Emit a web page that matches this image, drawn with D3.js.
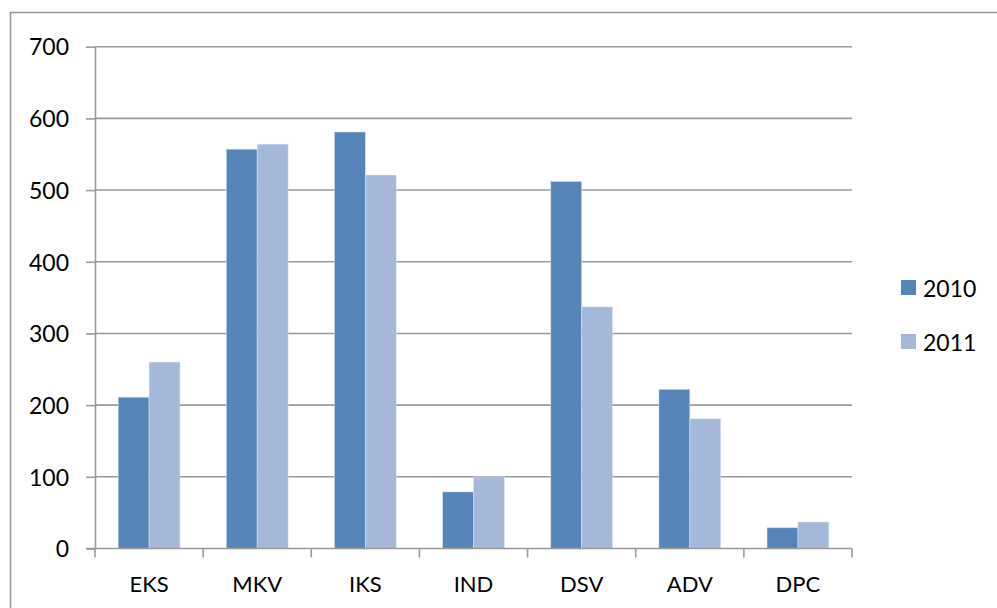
<!DOCTYPE html>
<meta charset="utf-8">
<style>
  body { margin: 0; background: #fff; }
  svg text { font-family: Lato, "Open Sans", sans-serif; fill: #000; }
  .grid line { stroke: #999; stroke-width: 1.6px; }
  .axis path, .axis line { stroke: #999; stroke-width: 1.6px; }
</style>
<svg width="997" height="608"></svg>
<script src="https://d3js.org/d3.v7.min.js"></script>
<script>

  var categories = ["EKS", "MKV", "IKS", "IND", "DSV", "ADV", "DPC"];
  var years = ["2010", "2011"];
  var values2010 = [211, 557, 581, 79, 512, 222, 29];
  var values2011 = [260, 564, 521, 100, 337, 181, 37];
  var yTicks = [0, 100, 200, 300, 400, 500, 600, 700];
  var colours = ["#5585b8", "#a5b8d9"];

  var svg = d3.select("svg");

  // outer frame (top and left edges show in the picture)
  svg.append("path")
      .attr("d", "M10.5,608V12.5H997")
      .attr("fill", "none")
      .attr("stroke", "#999")
      .attr("stroke-width", 1.6);

  var x0 = d3.scaleBand().domain(categories).range([95, 852]).paddingInner(0).paddingOuter(0);
  var x1 = d3.scaleBand().domain(years).range([0, x0.bandwidth()]).paddingInner(0).paddingOuter(0.75);
  var y = d3.scaleLinear().domain([0, 700]).range([548.5, 46.7]);

  // gridlines
  svg.append("g").attr("class", "grid")
    .selectAll("line")
    .data(yTicks.slice(1))
    .enter().append("line")
      .attr("x1", 95).attr("x2", 852)
      .attr("y1", function(d) { return y(d); })
      .attr("y2", function(d) { return y(d); });

  var rows = categories.map(function(c, i) {
    return { cat: c, vals: [values2010[i], values2011[i]] };
  });

  var group = svg.append("g").selectAll("g")
    .data(rows)
    .enter().append("g")
      .attr("transform", function(d) { return "translate(" + x0(d.cat) + ",0)"; });

  group.selectAll("rect")
    .data(function(d) { return d.vals.map(function(v, j) { return { year: years[j], v: v, j: j }; }); })
    .enter().append("rect")
      .attr("x", function(d) { return x1(d.year); })
      .attr("width", x1.bandwidth())
      .attr("y", function(d) { return y(d.v); })
      .attr("height", function(d) { return y(0) - y(d.v); })
      .attr("fill", function(d) { return colours[d.j]; })
      .attr("stroke", "#dce6f2")
      .attr("stroke-opacity", 0.6)
      .attr("stroke-width", 0.8);

  // y axis
  var yAxis = svg.append("g").attr("class", "axis")
      .attr("transform", "translate(95,0)")
      .call(d3.axisLeft(y).tickValues(yTicks).tickSize(9).tickSizeOuter(0).tickPadding(17));
  yAxis.selectAll("text").style("font-size", "23px").attr("dy", "0.36em");
  yAxis.select(".domain").attr("d", "M0.5," + y(700) + "V" + y(0));

  // x axis with ticks on the category boundaries
  var xAxis = svg.append("g").attr("class", "axis")
      .attr("transform", "translate(0," + y(0) + ")");
  xAxis.append("line").attr("x1", 86).attr("x2", 852).attr("y1", 0).attr("y2", 0);
  xAxis.selectAll(".tk")
    .data(categories.concat(["end"]))
    .enter().append("line")
      .attr("class", "tk")
      .attr("x1", function(d, i) { return i < categories.length ? x0(d) : x0.range()[1]; })
      .attr("x2", function(d, i) { return i < categories.length ? x0(d) : x0.range()[1]; })
      .attr("y1", 0).attr("y2", 9);
  xAxis.selectAll("text")
    .data(categories)
    .enter().append("text")
      .attr("x", function(d) { return x0(d) + x0.bandwidth() / 2; })
      .attr("y", 43)
      .attr("text-anchor", "middle")
      .style("font-size", "22px")
      .text(function(d) { return d; });

  // legend
  var legend = svg.append("g").selectAll("g")
    .data(years)
    .enter().append("g")
      .attr("transform", function(d, i) { return "translate(901," + (280 + i * 54) + ")"; });
  legend.append("rect")
      .attr("width", 15).attr("height", 15)
      .attr("fill", function(d, i) { return colours[i]; });
  legend.append("text")
      .attr("x", 22).attr("y", 17)
      .style("font-size", "23px")
      .text(function(d) { return d; });

</script>
